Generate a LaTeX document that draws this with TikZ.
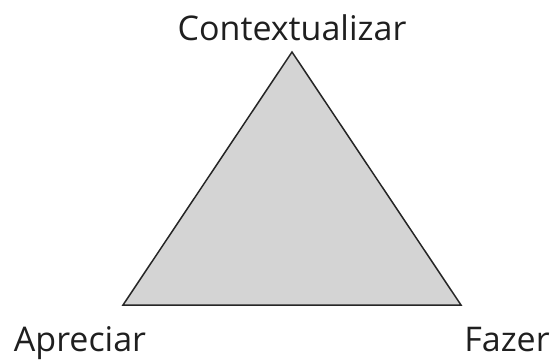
\documentclass[tikz,border=0pt]{standalone}
\usepackage{fontspec}
\setmainfont{Open Sans}
\begin{document}
\begin{tikzpicture}[
    x=0.5pt, y=-0.5pt,
    rotulo/.style={anchor=base, font=\fontsize{17}{20}\selectfont, text=black!88},
    lado/.style={draw=black!85, line width=0.75pt, fill=black!17, line join=miter}
]
    \useasboundingbox (0,0) rectangle (555,360);
    % Vértices do triângulo
    \coordinate (c) at (292,52);
    \coordinate (a) at (123,305);
    \coordinate (f) at (461,305);

    \draw[lado] (c) -- (a) -- (f) -- cycle;

    % Rótulos dos vértices
    \node[rotulo] (tc) at (292,40) {Contextualizar};
    \node[rotulo] (ta) at (80,351) {Apreciar};
    \node[rotulo] (tf) at (507,351) {Fazer};
\end{tikzpicture}
\end{document}
